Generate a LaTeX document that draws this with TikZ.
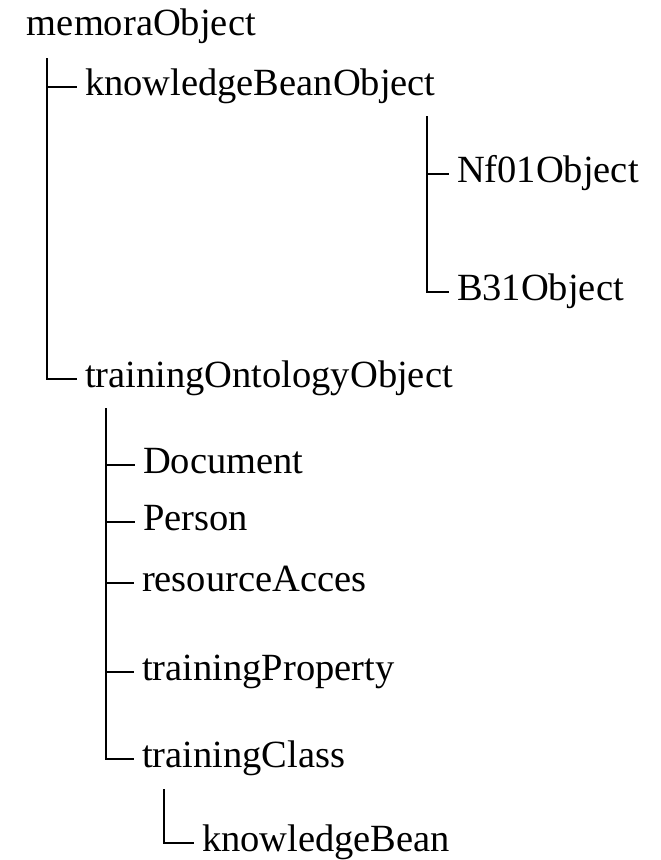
\documentclass[tikz,border=0pt]{standalone}
\usepackage{fontspec}
\setmainfont{Liberation Serif}
\begin{document}
\begin{tikzpicture}[x=1pt,y=-1pt,
  lbl/.style={anchor=base west,inner sep=0pt,outer sep=0pt,font=\fontsize{38.5}{46}\selectfont},
  branch/.style={draw=black,line width=1.3pt}]
\useasboundingbox (0,0) rectangle (661,860);
% labels
\node[lbl] (memora) at (27,35) {memoraObject};
\node[lbl] (kbo) at (85,95) {knowledgeBeanObject};
\node[lbl] (nf) at (457,182) {Nf01Object};
\node[lbl] (b31) at (457,300) {B31Object};
\node[lbl] (too) at (85,387) {trainingOntologyObject};
\node[lbl] (doc) at (143,473) {Document};
\node[lbl] (per) at (143,530) {Person};
\node[lbl] (res) at (142,591) {resourceAcces};
\node[lbl] (tp) at (142,680) {trainingProperty};
\node[lbl] (tc) at (142,767) {trainingClass};
\node[lbl] (kb) at (202,851) {knowledgeBean};
% trunk tops
\coordinate (t1) at (47,58);
\coordinate (t2) at (427,116);
\coordinate (t3) at (106,408);
\coordinate (t4) at (164,789);
% connectors
\foreach \top/\child in {t1/kbo,t1/too,t2/nf,t2/b31,t3/doc,t3/per,t3/res,t3/tp,t3/tc,t4/kb}{
  \draw[branch] (\top) |- ([shift={(-8pt,8pt)}]\child.base west);
}
\end{tikzpicture}
\end{document}
